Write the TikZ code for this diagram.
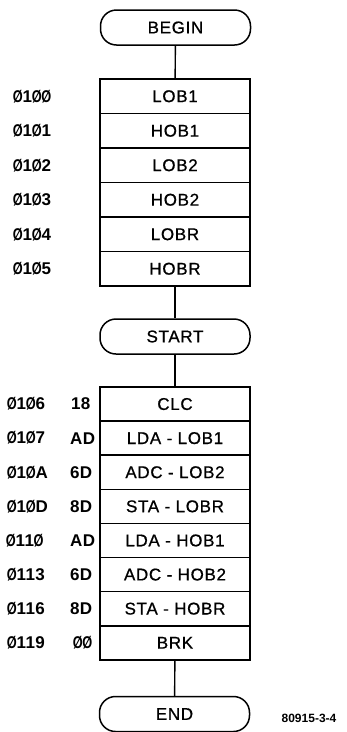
\documentclass[tikz,border=0pt]{standalone}
\usepackage{fontspec}
\setmainfont{Liberation Sans}
\newfontfamily\bxfont[LetterSpace=4,FakeBold=0.8]{Liberation Sans}
\newfontfamily\lbfont[LetterSpace=2]{Liberation Sans}
\newcommand{\zslash}{\makebox[0.556em]{\scalebox{0.75}[1]{Ø}}}
\begin{document}
\begin{tikzpicture}[x=1pt,y=-1pt,
  term/.style={draw,line width=1.5pt,rounded corners=16pt,minimum width=150pt,minimum height=35pt,inner sep=0pt,font=\bxfont\fontsize{17}{20}\selectfont},
  row/.style={draw,line width=1.6pt,minimum width=150pt,minimum height=#1,inner sep=0pt,font=\bxfont\fontsize{17}{20}\selectfont},
  lbl/.style={anchor=west,inner sep=0pt,font=\lbfont\bfseries\fontsize{17}{20}\selectfont},
  conn/.style={line width=1.4pt}]
\useasboundingbox (0,0) rectangle (347,732);
\node[term] (begin) at (175.5,27.5) {BEGIN};
\node[term] (start) at (175,336.5) {START};
\node[term] (end) at (174.5,714) {END};
% stack 1
\foreach \t [count=\i] in {LOB1,HOB1,LOB2,HOB2,LOBR,HOBR}{
  \node[row=34.5pt] (a\i) at (175,{79+34.5*(\i-0.5)}) {\t};
}
\foreach \t [count=\i] in {CLC,LDA - LOB1,ADC - LOB2,STA - LOBR,LDA - HOB1,ADC - HOB2,STA - HOBR,BRK}{
  \node[row=34.1pt] (b\i) at (175,{387+34.1*(\i-0.5)}) {\t};
}
% addresses stack 1
\node[lbl] (la1) at (13,{79+34.5*0.5}) {\zslash1\zslash\zslash};
\node[lbl] (la2) at (13,{79+34.5*1.5}) {\zslash1\zslash1};
\node[lbl] (la3) at (13,{79+34.5*2.5}) {\zslash1\zslash2};
\node[lbl] (la4) at (13,{79+34.5*3.5}) {\zslash1\zslash3};
\node[lbl] (la5) at (13,{79+34.5*4.5}) {\zslash1\zslash4};
\node[lbl] (la6) at (13,{79+34.5*5.5}) {\zslash1\zslash5};
% addresses stack 2
\node[lbl] (lb1) at (7,{387+34.1*0.5}) {\zslash1\zslash6};
\node[lbl] (lb2) at (7,{387+34.1*1.5}) {\zslash1\zslash7};
\node[lbl] (lb3) at (7,{387+34.1*2.5}) {\zslash1\zslash A};
\node[lbl] (lb4) at (7,{387+34.1*3.5}) {\zslash1\zslash D};
\node[lbl] (lb5) at (6,{387+34.1*4.5}) {\zslash11\zslash};
\node[lbl] (lb6) at (7,{387+34.1*5.5}) {\zslash113};
\node[lbl] (lb7) at (7,{387+34.1*6.5}) {\zslash116};
\node[lbl] (lb8) at (7,{387+34.1*7.5}) {\zslash119};
% opcodes
\node[lbl] (oc1) at (71,{387+34.1*0.5}) {18};
\node[lbl] (oc2) at (70,{387+34.1*1.5}) {AD};
\node[lbl] (oc3) at (70,{387+34.1*2.5}) {6D};
\node[lbl] (oc4) at (70,{387+34.1*3.5}) {8D};
\node[lbl] (oc5) at (70,{387+34.1*4.5}) {AD};
\node[lbl] (oc6) at (70,{387+34.1*5.5}) {6D};
\node[lbl] (oc7) at (70,{387+34.1*6.5}) {8D};
\node[lbl] (oc8) at (73,{387+34.1*7.5}) {\zslash\zslash};
\node[anchor=center,inner sep=0pt,font=\bfseries\fontsize{12}{14}\selectfont] (fig) at (309,718) {80915-3-4};
% connectors
\draw[conn] (begin) -- (a1);
\draw[conn] (a6) -- (start);
\draw[conn] (start) -- (b1);
\draw[conn] (b8) -- (end);
\end{tikzpicture}
\end{document}
